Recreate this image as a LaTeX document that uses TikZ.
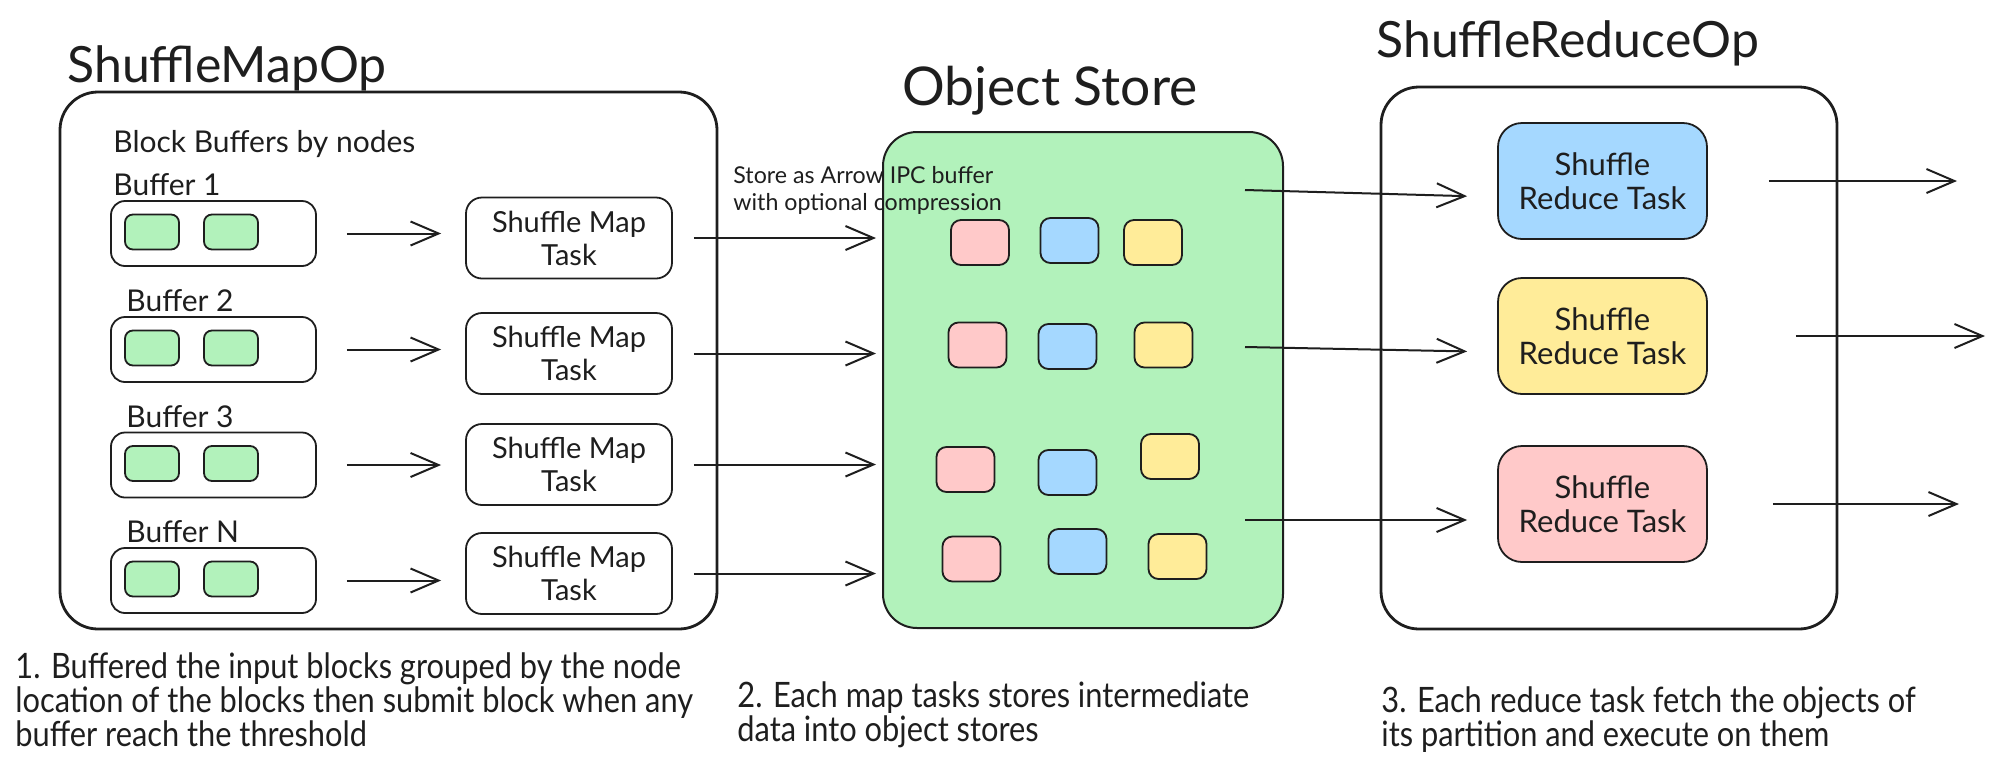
\documentclass[tikz,border=0pt]{standalone}
\usepackage{fontspec}
\setmainfont{Lato}
\newfontfamily\notefont[FakeStretch=0.88]{Lato}
\usepackage{tikz}
\usetikzlibrary{arrows.meta}
\definecolor{ink}{HTML}{1E1E1E}
\definecolor{blkgreen}{HTML}{B2F2BB}
\definecolor{objpink}{HTML}{FFC9C9}
\definecolor{objblue}{HTML}{A5D8FF}
\definecolor{objyellow}{HTML}{FFEC99}

\begin{document}
\begin{tikzpicture}[x=0.5pt, y=-0.5pt,
  every node/.style={inner sep=0pt, text=ink},
  frame/.style={draw=ink, line width=1.4pt, rounded corners=19pt},
  bufbox/.style={draw=ink, line width=0.9pt, rounded corners=7pt, minimum width=102.5pt, minimum height=32.5pt},
  blk/.style={draw=ink, fill=blkgreen, line width=0.9pt, rounded corners=4pt, minimum width=27pt, minimum height=17.5pt},
  maptask/.style={draw=ink, line width=0.9pt, rounded corners=8pt, minimum width=103pt, minimum height=40.5pt,
    align=center, font=\fontsize{14.5}{16.5}\selectfont},
  obj/.style={draw=ink, line width=0.9pt, rounded corners=5pt, minimum width=29pt, minimum height=22.5pt},
  redtask/.style={draw=ink, line width=0.9pt, rounded corners=12pt, minimum width=104.5pt, minimum height=58pt,
    align=center, font=\fontsize{15.5}{17}\selectfont},
  title/.style={anchor=base west, font=\fontsize{25}{30}\selectfont},
  lbl/.style={anchor=base west, font=\fontsize{15}{18}\selectfont},
  note/.style={anchor=north west, align=left, font=\notefont\fontsize{17.5}{17}\selectfont},
  arr/.style={draw=ink, line width=1pt, -{Straight Barb[length=14pt, width=12pt]}}]
\useasboundingbox (0,0) rectangle (1999,783);

% === ShuffleMapOp ===
\node[frame, minimum width=328.5pt, minimum height=268.5pt] (mapop) at (388.5,360.5) {};
\node[title] (mapTitle) at (67,82) {ShuffleMapOp};
\node[lbl] (bufTitle) at (113,152) {Block Buffers by nodes};

% === Object Store ===
\node[frame, line width=1pt, rounded corners=17pt, fill=blkgreen, minimum width=200pt, minimum height=248pt] (store) at (1083,380) {};
\node[title, font=\fontsize{26.7}{30}\selectfont] (storeTitle) at (902,105) {Object Store};
\node[anchor=north west, align=left, font=\fontsize{11.6}{13.5}\selectfont] (ipcNote) at (733,166)
  {Store as Arrow IPC buffer\\with optional compression};

% === ShuffleReduceOp ===
\node[frame, minimum width=228pt, minimum height=271pt] (reduceop) at (1609,358) {};
\node[title] (reduceTitle) at (1376,57) {ShuffleReduceOp};

% Buffers, blocks and map tasks
\foreach \i/\lab/\lx/\by/\my in {1/1/113/233.5/238, 2/2/126/349.5/353.5, 3/3/126/465/464.5, 4/N/126/580.5/573.5} {
  \node[bufbox] (buf\i) at (213.5,\by) {};
  \node[lbl] (bufLbl\i) at (\lx,\by-38) {Buffer \lab};
  \node[blk] (blkA\i) at (152,\by-1.5) {};
  \node[blk] (blkB\i) at (231,\by-1.5) {};
  \node[maptask] (mt\i) at (569,\my) {Shuffle Map\\Task};
  \draw[arr, shorten <=15pt, shorten >=12pt] (buf\i.east) -- (buf\i.east -| mt\i.west);
  \draw[arr, shorten <=10.5pt, shorten >=3pt] (mt\i.east) -- (mt\i.east -| store.west);
}

% Objects in the store: one row per map task
\foreach \n/\c/\x/\y in {1/objpink/980/242.5, 2/objblue/1069.5/240.5, 3/objyellow/1153/242.5,
    4/objpink/977.5/345, 5/objblue/1067.5/346.5, 6/objyellow/1163.5/345,
    7/objpink/965.5/469.5, 8/objblue/1067.5/472.5, 9/objyellow/1170/456.5,
    10/objpink/971.5/559, 11/objblue/1077.5/551.5, 12/objyellow/1177.5/556.5} {
  \node[obj, fill=\c] (obj\n) at (\x,\y) {};
}

% Reduce tasks
\node[redtask, fill=objblue] (rt1) at (1602.5,181) {Shuffle\\Reduce Task};
\node[redtask, fill=objyellow] (rt2) at (1602.5,336) {Shuffle\\Reduce Task};
\node[redtask, fill=objpink] (rt3) at (1602.5,504) {Shuffle\\Reduce Task};

\coordinate (fetch1) at (1245,190);
\coordinate (fetch2) at (1245,347);
\coordinate (fetch3) at (1245,520);
\coordinate (out1) at (1957,181);
\coordinate (out2) at (1985,336);
\coordinate (out3) at (1959,504);
\foreach \i/\s in {1/30.5, 2/44, 3/32.5} {
  \draw[arr, shorten >=15pt] (fetch\i) -- ([yshift=-8pt]rt\i.west);
  \draw[arr, shorten <=\s pt] (rt\i.east) -- (out\i);
}

% === Step notes ===
\node[note] (step1) at (15,652) {1. Buffered the input blocks grouped by the node\\location of the blocks then submit block when any\\buffer reach the threshold};
\node[note] (step2) at (737,681) {2. Each map tasks stores intermediate\\data into object stores};
\node[note] (step3) at (1381,686) {3. Each reduce task fetch the objects of\\its partition and execute on them};
\end{tikzpicture}
\end{document}
